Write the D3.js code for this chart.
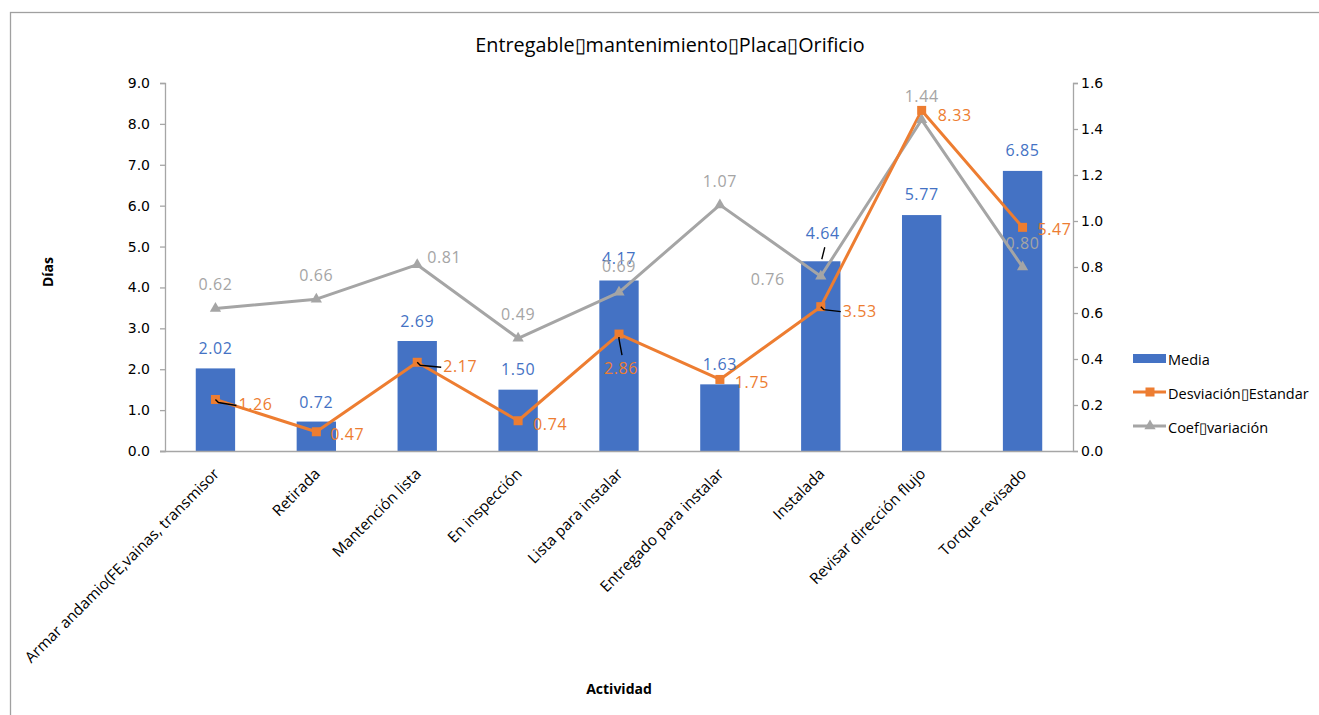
<!DOCTYPE html>
<html>
<head>
<meta charset="utf-8">
<script src="https://cdn.jsdelivr.net/npm/d3@7"></script>
<style>
  html, body { margin: 0; padding: 0; background: #fff; }
  svg { display: block; }
</style>
</head>
<body>
<svg id="chart" width="1319" height="715"></svg>
<script>
// ---------------- DATA ----------------
const categories = [
  "Armar andamio(FE,vainas, transmisor",
  "Retirada",
  "Mantención lista",
  "En inspección",
  "Lista para instalar",
  "Entregado para instalar",
  "Instalada",
  "Revisar dirección flujo",
  "Torque revisado"
];
const media      = [2.02, 0.72, 2.69, 1.50, 4.17, 1.63, 4.64, 5.77, 6.85];
const desviacion = [1.26, 0.47, 2.17, 0.74, 2.86, 1.75, 3.53, 8.33, 5.47];
const coefVar    = [0.62, 0.66, 0.81, 0.49, 0.69, 1.07, 0.76, 1.44, 0.80];
const leftTicks  = [0, 1, 2, 3, 4, 5, 6, 7, 8, 9];
const rightTicks = [0, 0.2, 0.4, 0.6, 0.8, 1.0, 1.2, 1.4, 1.6];
const seriesNames = ["Media", "Desviación\u25AFEstandar", "Coef\u25AFvariación"];
const chartTitle = "Entregable\u25AFmantenimiento\u25AFPlaca\u25AFOrificio";
const xTitle = "Actividad";
const yTitle = "Días";

// label placement (offset of label centre from its point), kept apart from data
const mediaLabelDy = [-20, -20, -20, -21, -22, -20, -28, -21, -21];
const devLabelOff  = [[40,5],[31,2],[43,4],[32,3],[2,34],[32,3],[39,4],[33,5],[32,2]];
const coefLabelOff = [[0,-24],[0,-24],[27,-8],[0,-24],[0,-26],[0,-24],[-53,3],[0,-24],[0,-24]];
const devLeader    = [true,false,true,false,true,false,true,false,false];
const mediaLeader  = [false,false,false,false,false,false,true,false,false];

// ---------------- STYLE ----------------
const C_BLUE = "#4472C4", C_ORANGE = "#ED7D31", C_GRAY = "#A5A5A5", C_AXIS = "#A6A6A6";
const FONT = "'Open Sans', 'Liberation Sans', sans-serif";
const TICKFONT = "'DejaVu Sans', sans-serif";

const svg = d3.select("#chart");
const W = 1319, H = 715;
const plot = { left: 165, right: 1073, top: 83, bottom: 451 };

// chart border
svg.append("rect").attr("x", 10.5).attr("y", 12.5).attr("width", W + 20).attr("height", H + 20)
  .attr("fill", "none").attr("stroke", "#A0A0A0").attr("stroke-width", 1.3);

const x = d3.scaleBand().domain(categories).range([plot.left, plot.right]).paddingInner(0.61).paddingOuter(0.305);
const xc = d => x(d) + x.bandwidth() / 2;
const yL = d3.scaleLinear().domain([0, 9]).range([plot.bottom, plot.top]);
const yR = d3.scaleLinear().domain([0, 1.6]).range([plot.bottom, plot.top]);

// axes
const gL = svg.append("g").attr("transform", `translate(${plot.left},0)`)
  .call(d3.axisLeft(yL).tickValues(leftTicks).tickFormat(d3.format(".1f")).tickSizeOuter(0).tickSize(5).tickPadding(10));
const gR = svg.append("g").attr("transform", `translate(${plot.right},0)`)
  .call(d3.axisRight(yR).tickValues(rightTicks).tickFormat(d3.format(".1f")).tickSizeOuter(0).tickSize(5).tickPadding(3));
[gL, gR].forEach(g => {
  g.select(".domain").attr("stroke", C_AXIS).attr("stroke-width", 1.3);
  g.selectAll(".tick line").attr("stroke", C_AXIS).attr("stroke-width", 1.3);
  g.selectAll(".tick text").attr("fill", "#000").style("font-family", TICKFONT).style("font-size", "14px");
});

// bars
svg.append("g").selectAll("rect").data(media).join("rect")
  .attr("x", (d, i) => x(categories[i]))
  .attr("y", d => yL(d))
  .attr("width", x.bandwidth())
  .attr("height", d => yL(0) - yL(d))
  .attr("fill", C_BLUE);

// x axis
const gX = svg.append("g").attr("transform", `translate(0,${plot.bottom})`)
  .call(d3.axisBottom(x).tickSize(0).tickSizeOuter(0).tickPadding(0));
gX.select(".domain").attr("d", `M${plot.left - 5},0.5H${plot.right}`).attr("stroke", C_AXIS).attr("stroke-width", 1.3);
gX.selectAll(".tick text")
  .attr("text-anchor", "end")
  .attr("transform", "translate(1,20) rotate(-45)")
  .attr("dy", "0.35em")
  .attr("y", 0)
  .attr("fill", "#000")
  .style("font-family", FONT).style("font-size", "15.3px");

// lines
const lineDev = d3.line().x((d, i) => xc(categories[i])).y(d => yL(d));
const lineCoef = d3.line().x((d, i) => xc(categories[i])).y(d => yR(d));
svg.append("path").datum(coefVar).attr("d", lineCoef).attr("fill", "none")
  .attr("stroke", C_GRAY).attr("stroke-width", 3).attr("stroke-linejoin", "round");
svg.append("path").datum(desviacion).attr("d", lineDev).attr("fill", "none")
  .attr("stroke", C_ORANGE).attr("stroke-width", 3).attr("stroke-linejoin", "round");

// markers
const tri = d3.symbol().type(d3.symbolTriangle).size(55);
svg.append("g").selectAll("path").data(coefVar).join("path")
  .attr("d", tri)
  .attr("transform", (d, i) => `translate(${xc(categories[i])},${yR(d)})`)
  .attr("fill", C_GRAY);
svg.append("g").selectAll("rect").data(desviacion).join("rect")
  .attr("x", (d, i) => xc(categories[i]) - 4.5)
  .attr("y", d => yL(d) - 4.5)
  .attr("width", 9).attr("height", 9)
  .attr("fill", C_ORANGE);

// data labels
const lblFont = s => s.style("font-family", FONT).style("font-size", "16px").style("letter-spacing", "0.6px")
  .attr("text-anchor", "middle").attr("dominant-baseline", "central");
const leaders = svg.append("g").attr("stroke", "#000").attr("stroke-width", 1.4).attr("fill", "none");

// media
media.forEach((v, i) => {
  const px = xc(categories[i]), py = yL(v);
  const lx = px + (mediaLeader[i] ? 2 : 0), ly = py + mediaLabelDy[i];
  svg.append("text").attr("x", lx).attr("y", ly).attr("fill", C_BLUE).text(d3.format(".2f")(v)).call(lblFont);
  if (mediaLeader[i]) leaders.append("line").attr("x1", lx + 2).attr("y1", ly + 14).attr("x2", px + 1).attr("y2", py - 2);
});
// desviacion
desviacion.forEach((v, i) => {
  const px = xc(categories[i]), py = yL(v);
  const lx = px + devLabelOff[i][0], ly = py + devLabelOff[i][1];
  svg.append("text").attr("x", lx).attr("y", ly).attr("fill", C_ORANGE).text(d3.format(".2f")(v)).call(lblFont);
  if (devLeader[i]) {
    const horiz = Math.abs(devLabelOff[i][0]) > Math.abs(devLabelOff[i][1]);
    const ex = horiz ? lx - 19 : lx + 1, ey = horiz ? ly + 1 : ly - 13;
    leaders.append("path").attr("d", `M${px},${py + (horiz ? 0 : 3)}L${horiz ? px + 3 : px},${py + (horiz ? 3 : 5)}L${ex},${ey}`);
  }
});
// coef
coefVar.forEach((v, i) => {
  const px = xc(categories[i]), py = yR(v);
  svg.append("text").attr("x", px + coefLabelOff[i][0]).attr("y", py + coefLabelOff[i][1])
    .attr("fill", C_GRAY).text(d3.format(".2f")(v)).call(lblFont);
});

// title
svg.append("text").attr("x", 670).attr("y", 44).attr("text-anchor", "middle").attr("dominant-baseline", "central")
  .style("font-family", FONT).style("font-size", "19.8px").attr("fill", "#000").text(chartTitle);

// axis titles
svg.append("text").attr("transform", "translate(47,272) rotate(-90)").attr("text-anchor", "middle")
  .attr("dominant-baseline", "central")
  .style("font-family", FONT).style("font-size", "14px").style("font-weight", "bold").text(yTitle);
svg.append("text").attr("x", 619).attr("y", 688).attr("text-anchor", "middle").attr("dominant-baseline", "central")
  .style("font-family", FONT).style("font-size", "14px").style("font-weight", "bold").text(xTitle);

// legend
const lg = svg.append("g").attr("transform", "translate(1133,0)");
const rows = [359, 393, 427];
lg.append("rect").attr("x", 0).attr("y", rows[0] - 5).attr("width", 33).attr("height", 9).attr("fill", C_BLUE);
lg.append("line").attr("x1", 0).attr("x2", 33).attr("y1", rows[1] - 1).attr("y2", rows[1] - 1).attr("stroke", C_ORANGE).attr("stroke-width", 3);
lg.append("rect").attr("x", 12.5).attr("y", rows[1] - 5.5).attr("width", 9).attr("height", 9).attr("fill", C_ORANGE);
lg.append("line").attr("x1", 0).attr("x2", 33).attr("y1", rows[2] - 1).attr("y2", rows[2] - 1).attr("stroke", C_GRAY).attr("stroke-width", 3);
lg.append("path").attr("d", tri).attr("transform", `translate(17,${rows[2] - 1})`).attr("fill", C_GRAY);
seriesNames.forEach((n, i) => {
  lg.append("text").attr("x", 35).attr("y", rows[i]).attr("dominant-baseline", "central")
    .style("font-family", FONT).style("font-size", "14.5px").attr("fill", "#000").text(n);
});
</script>
</body>
</html>
